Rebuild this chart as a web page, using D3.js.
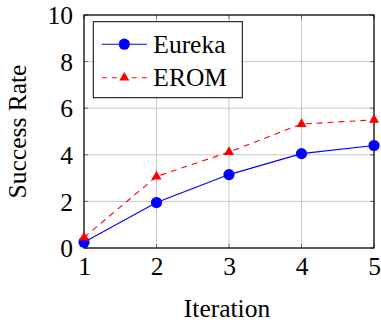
<!DOCTYPE html>
<html>
<head>
<meta charset="utf-8">
<script src="https://cdn.jsdelivr.net/npm/d3@7"></script>
<style>
  body { margin: 0; background: #fff; }
</style>
</head>
<body>
<figure id="chart" style="margin:0"></figure>
<script>
const iterations = [1, 2, 3, 4, 5];
const eureka = [0.25, 1.95, 3.15, 4.05, 4.4];
const erom = [0.45, 3.07, 4.12, 5.32, 5.5];
const xTicks = [1, 2, 3, 4, 5];
const yTicks = [0, 2, 4, 6, 8, 10];

const width = 381, height = 322;
const margin = { left: 84, top: 15, right: 7, bottom: 74 };
const w = width - margin.left - margin.right;
const h = height - margin.top - margin.bottom;
const fontSize = "25.5px";
const serif = "'Liberation Serif', 'DejaVu Serif', serif";

const svg = d3.select("figure#chart")
  .append("svg")
  .attr("width", width)
  .attr("height", height)
  .style("font-family", serif)
  .append("g")
  .attr("transform", "translate(" + margin.left + "," + margin.top + ")");

const x = d3.scaleLinear().domain([1, 5]).range([0, w]);
const y = d3.scaleLinear().domain([0, 10]).range([h, 0]);

// grid
svg.append("g")
  .selectAll("line")
  .data(xTicks)
  .enter().append("line")
  .attr("x1", d => x(d)).attr("x2", d => x(d))
  .attr("y1", 0).attr("y2", h)
  .attr("stroke", "#c8c8c8").attr("stroke-width", 1);

svg.append("g")
  .selectAll("line")
  .data(yTicks)
  .enter().append("line")
  .attr("x1", 0).attr("x2", w)
  .attr("y1", d => y(d)).attr("y2", d => y(d))
  .attr("stroke", "#c8c8c8").attr("stroke-width", 1);

// inner tick marks
const tickLen = 4;
const ticks = svg.append("g").attr("stroke", "#666").attr("stroke-width", 1);
xTicks.forEach(d => {
  ticks.append("line").attr("x1", x(d)).attr("x2", x(d)).attr("y1", h).attr("y2", h - tickLen);
  ticks.append("line").attr("x1", x(d)).attr("x2", x(d)).attr("y1", 0).attr("y2", tickLen);
});
yTicks.forEach(d => {
  ticks.append("line").attr("x1", 0).attr("x2", tickLen).attr("y1", y(d)).attr("y2", y(d));
  ticks.append("line").attr("x1", w).attr("x2", w - tickLen).attr("y1", y(d)).attr("y2", y(d));
});

// frame
svg.append("rect")
  .attr("width", w).attr("height", h)
  .attr("fill", "none").attr("stroke", "#000").attr("stroke-width", 1.2);

// axes (labels only)
const xAxis = svg.append("g")
  .attr("transform", "translate(0," + h + ")")
  .call(d3.axisBottom(x).tickValues(xTicks).tickFormat(d3.format("d")).tickSize(0).tickPadding(9));
xAxis.attr("font-family", serif).attr("font-size", fontSize);
xAxis.select(".domain").remove();
xAxis.selectAll("text").style("font-family", serif).style("font-size", fontSize).attr("fill", "#000");

const yAxis = svg.append("g")
  .call(d3.axisLeft(y).tickValues(yTicks).tickFormat(d3.format("d")).tickSize(0).tickPadding(11));
yAxis.attr("font-family", serif).attr("font-size", fontSize);
yAxis.select(".domain").remove();
yAxis.selectAll("text").style("font-family", serif).style("font-size", fontSize).attr("fill", "#000").attr("dy", "0.34em");

svg.append("text")
  .attr("x", w / 2 - 2)
  .attr("y", h + 69)
  .attr("text-anchor", "middle")
  .style("font-family", serif)
  .style("font-size", fontSize)
  .text("Iteration");

svg.append("text")
  .attr("transform", "rotate(-90)")
  .attr("x", -h / 2)
  .attr("y", -58)
  .attr("text-anchor", "middle")
  .style("font-family", serif)
  .style("font-size", fontSize)
  .text("Success Rate");

// series
const line = d3.line()
  .x((d, i) => x(iterations[i]))
  .y(d => y(d));

svg.append("path")
  .datum(eureka)
  .attr("d", line)
  .attr("fill", "none")
  .attr("stroke", "#0000ff")
  .attr("stroke-width", 1.1);

svg.append("path")
  .datum(erom)
  .attr("d", line)
  .attr("fill", "none")
  .attr("stroke", "#ff0000")
  .attr("stroke-width", 1.1)
  .attr("stroke-dasharray", "6,5");

const tri = d3.symbol().type(d3.symbolTriangle).size(44);

svg.append("g")
  .selectAll("circle")
  .data(eureka)
  .enter().append("circle")
  .attr("cx", (d, i) => x(iterations[i]))
  .attr("cy", d => y(d))
  .attr("r", 5.6)
  .attr("fill", "#0000ff");

svg.append("g")
  .selectAll("path")
  .data(erom)
  .enter().append("path")
  .attr("d", tri)
  .attr("transform", (d, i) => "translate(" + x(iterations[i]) + "," + y(d) + ")")
  .attr("fill", "#ff0000");

// legend
const legend = svg.append("g").attr("transform", "translate(9.3,6.7)");
legend.append("rect")
  .attr("width", 149).attr("height", 76)
  .attr("fill", "#fff").attr("stroke", "#000").attr("stroke-width", 1);

const rows = [
  { name: "Eureka", color: "#0000ff", dash: null, marker: "circle", yy: 22.5 },
  { name: "EROM", color: "#ff0000", dash: "5,5", marker: "tri", yy: 56 }
];
rows.forEach(r => {
  legend.append("line")
    .attr("x1", 8.5).attr("x2", 53.5).attr("y1", r.yy).attr("y2", r.yy)
    .attr("stroke", r.color).attr("stroke-width", 1.1)
    .attr("stroke-dasharray", r.dash);
  if (r.marker === "circle") {
    legend.append("circle").attr("cx", 31).attr("cy", r.yy).attr("r", 5.6).attr("fill", r.color);
  } else {
    legend.append("path").attr("d", tri).attr("transform", "translate(31," + r.yy + ")").attr("fill", r.color);
  }
  legend.append("text")
    .attr("x", 60).attr("y", r.yy).attr("dy", "0.34em")
    .style("font-family", serif)
    .style("font-size", fontSize)
    .text(r.name);
});
</script>
</body>
</html>
